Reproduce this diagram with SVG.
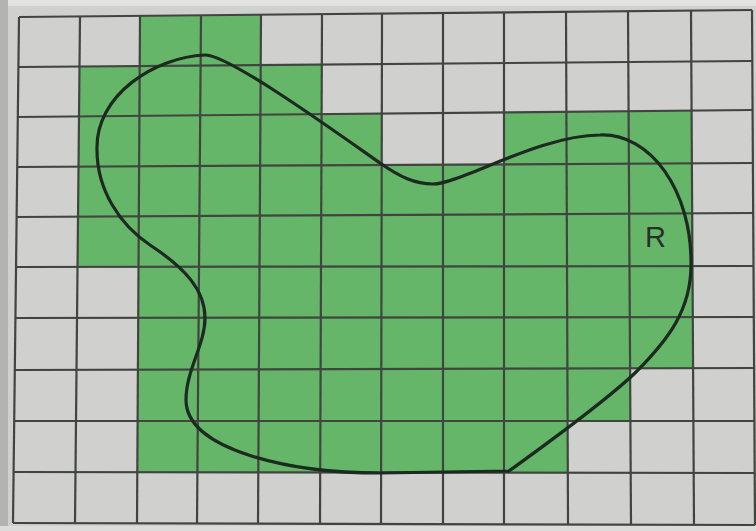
<svg xmlns="http://www.w3.org/2000/svg" width="756" height="531" viewBox="0 0 756 531">
<style>
.g{fill:#66b66a}
.ln{stroke:#41453f;stroke-width:2.2;fill:none}
.curve{stroke:#1c2a20;stroke-width:3.2;fill:none;stroke-linejoin:round}
.lbl{font-family:"Liberation Sans",Arial,sans-serif;font-size:29px;fill:#253028}
</style>
<rect x="0" y="0" width="756" height="531" fill="#d0d0ce"/>
<rect x="0" y="0" width="756" height="6" fill="#e2e2e0"/>
<rect x="0" y="0" width="8" height="531" fill="#b3b3b1"/>
<rect x="0" y="526" width="756" height="5" fill="#dcdcda"/>
<g id="cells">
<polygon class="g" points="140,15.8 261,14.7 261,65 139.7,66"/>
<polygon class="g" points="79.5,66.5 321.8,64.5 321.6,114.1 79,116.4"/>
<polygon class="g" points="79,116.4 381.8,113.5 381.7,165 78.5,166.7"/>
<polygon class="g" points="504,112.4 691.4,110.6 691.6,163.3 504,164.4"/>
<polygon class="g" points="78.5,166.7 691.6,163.3 692.2,213.3 78,216.7"/>
<polygon class="g" points="78,216.7 692.2,213.3 692.5,266.1 77.5,266.9"/>
<polygon class="g" points="138.5,266.8 692.5,266.1 692.8,317.1 138.2,317.8"/>
<polygon class="g" points="138.2,317.8 692.8,317.1 693.1,368.2 137.9,369.7"/>
<polygon class="g" points="137.9,369.7 630.1,368.3 630.4,421 137.6,421"/>
<polygon class="g" points="137.6,421 567.6,421 567.8,472.7 137.3,472.2"/>
</g>
<g id="grid" class="ln">
<line x1="19" y1="17" x2="752" y2="10"/>
<line x1="19" y1="67" x2="752" y2="61"/>
<line x1="18" y1="117" x2="752" y2="110"/>
<line x1="17" y1="167" x2="753" y2="163"/>
<line x1="17" y1="217" x2="753" y2="213"/>
<line x1="16" y1="267" x2="753" y2="266"/>
<line x1="15" y1="318" x2="754" y2="317"/>
<line x1="15" y1="370" x2="754" y2="368"/>
<line x1="14" y1="421" x2="754" y2="421"/>
<line x1="14" y1="472" x2="755" y2="473"/>
<line x1="13" y1="523" x2="755" y2="525"/>
<line x1="19" y1="17" x2="13" y2="523"/>
<line x1="80" y1="16" x2="75" y2="523"/>
<line x1="140" y1="16" x2="137" y2="523"/>
<line x1="201" y1="15" x2="197" y2="524"/>
<line x1="261" y1="15" x2="258" y2="524"/>
<line x1="322" y1="14" x2="320" y2="524"/>
<line x1="382" y1="14" x2="381" y2="524"/>
<line x1="443" y1="13" x2="443" y2="524"/>
<line x1="504" y1="12" x2="504" y2="524"/>
<line x1="566" y1="12" x2="568" y2="524"/>
<line x1="628" y1="11" x2="631" y2="525"/>
<line x1="691" y1="11" x2="694" y2="525"/>
<line x1="752" y1="10" x2="755" y2="525"/>
</g>
<g id="region-R">
<path class="curve" d="M97,150 C95,95 155,57 205,55 C228,54 340,135 380,163 C400,177 415,184 433,184 C460,184 540,135 600,135 C650,133 692,190 691,265 C691,310 668,340 636,372 C605,402 545,445 509,471 L380,473 C290,473 186,450 186,400 C186,370 205,345 205,318 C205,290 185,268 150,245 C120,225 97,190 97,150 Z"/>
<text class="lbl" x="645" y="247">R</text>
</g>
</svg>
